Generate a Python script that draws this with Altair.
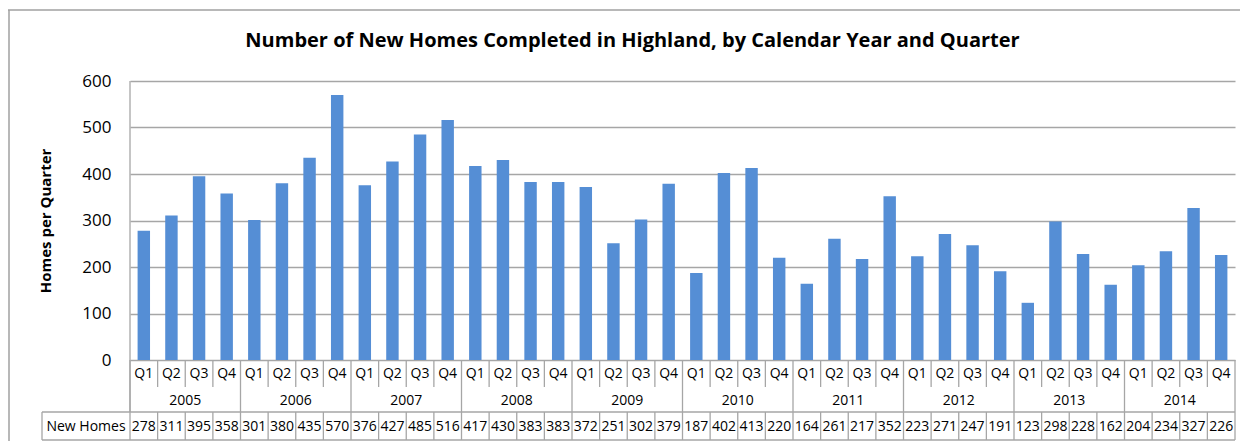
import altair as alt
import pandas as pd

years = ["2005", "2006", "2007", "2008", "2009", "2010", "2011", "2012", "2013", "2014"]
quarters = ["Q1", "Q2", "Q3", "Q4"]
new_homes = [
    278, 311, 395, 358,
    301, 380, 435, 570,
    376, 427, 485, 516,
    417, 430, 383, 383,
    372, 251, 302, 379,
    187, 402, 413, 220,
    164, 261, 217, 352,
    223, 271, 247, 191,
    123, 298, 228, 162,
    204, 234, 327, 226,
]
y_ticks = [0, 100, 200, 300, 400, 500, 600]

rows = []
for i, y in enumerate(years):
    for j, q in enumerate(quarters):
        rows.append({"key": f"{y} {q}", "year": y, "quarter": q,
                     "value": new_homes[i * 4 + j]})
df = pd.DataFrame(rows)
order = list(df["key"])

FONT = "Open Sans"
GRID = "#a6a6a6"
W, H = 1105, 360
PLOT_H = 279
Q_Y, YEAR_Y, TAB_TOP, TAB_BOT = 306, 331, 331, 359

xs = alt.Scale(domain=order, paddingInner=0, paddingOuter=0)
X = lambda bp=None: (alt.X("key:N", scale=xs, sort=order, axis=None) if bp is None
                     else alt.X("key:N", scale=xs, sort=order, axis=None, bandPosition=bp))

base = alt.Chart(df)

bars = base.mark_bar(color="#558ED5", width=alt.RelativeBandSize(0.45)).encode(
    x=X(),
    y=alt.Y("value:Q",
            scale=alt.Scale(domain=[0, 600], range=[PLOT_H, 0], nice=False),
            axis=alt.Axis(values=y_ticks, title="Homes per Quarter",
                          titleFont=FONT, titleFontSize=15, titleFontWeight="bold",
                          titleColor="#000", titlePadding=28,
                          labelFont=FONT, labelFontSize=17, labelColor="#000",
                          labelPadding=19, ticks=False, domain=False,
                          grid=True, gridColor=GRID, gridWidth=1.3)),
)

q_text = base.mark_text(font=FONT, fontSize=14, color="#000").encode(
    x=X(), y=alt.value((PLOT_H + Q_Y) / 2), text="quarter:N")

year_text = base.transform_filter(alt.datum.quarter == "Q2").mark_text(
    font=FONT, fontSize=14, color="#000").encode(
    x=X(1), y=alt.value((Q_Y + YEAR_Y) / 2 + 1), text="year:N")

val_text = base.mark_text(font=FONT, fontSize=14, color="#000").encode(
    x=X(), y=alt.value((TAB_TOP + TAB_BOT) / 2 + 1), text="value:Q")

rule_style = dict(color=GRID, strokeWidth=1.3)

q_sep = base.transform_filter(alt.datum.quarter != "Q1").mark_rule(**rule_style).encode(
    x=X(0), y=alt.value(PLOT_H), y2=alt.value(Q_Y))
year_sep = base.transform_filter(alt.datum.quarter == "Q1").mark_rule(**rule_style).encode(
    x=X(0), y=alt.value(PLOT_H), y2=alt.value(TAB_TOP))
tab_sep = base.mark_rule(**rule_style).encode(
    x=X(0), y=alt.value(TAB_TOP), y2=alt.value(TAB_BOT))
last_sep = base.transform_filter(alt.datum.key == order[-1]).mark_rule(**rule_style).encode(
    x=X(1), y=alt.value(PLOT_H), y2=alt.value(TAB_BOT))

frame_df = pd.DataFrame({"k": [0]})
fb = alt.Chart(frame_df)
left_axis = fb.mark_rule(**rule_style).encode(
    x=alt.value(0), y=alt.value(0), y2=alt.value(TAB_TOP))
tab_h1 = fb.mark_rule(**rule_style).encode(
    x=alt.value(-88), x2=alt.value(W), y=alt.value(TAB_TOP))
tab_h2 = fb.mark_rule(**rule_style).encode(
    x=alt.value(-88), x2=alt.value(W), y=alt.value(TAB_BOT))
tab_left = fb.mark_rule(**rule_style).encode(
    x=alt.value(-88), y=alt.value(TAB_TOP), y2=alt.value(TAB_BOT))
label_text = fb.mark_text(font=FONT, fontSize=14, color="#000", text="New Homes").encode(
    x=alt.value(-44), y=alt.value((TAB_TOP + TAB_BOT) / 2 + 1))
outer_top = fb.mark_rule(color="#a0a0a0", strokeWidth=1.5).encode(
    x=alt.value(-122), x2=alt.value(W + 20), y=alt.value(-71))
outer_left = fb.mark_rule(color="#a0a0a0", strokeWidth=1.5).encode(
    x=alt.value(-121), y=alt.value(-71), y2=alt.value(H + 5))

chart = alt.layer(
    outer_top, outer_left,
    bars, left_axis, q_sep, year_sep, tab_sep, last_sep,
    tab_h1, tab_h2, tab_left,
    q_text, year_text, val_text, label_text,
).properties(
    width=W, height=H,
    title=alt.TitleParams(
        "Number of New Homes Completed in Highland, by Calendar Year and Quarter",
        font=FONT, fontSize=20, fontWeight="bold", color="#000",
        anchor="middle", dx=-50, offset=-42),
    autosize=alt.AutoSizeParams(type="none"),
    padding={"left": 122, "top": 73, "right": 5, "bottom": 0},
).configure_view(stroke=None)

chart.save("out.html", embed_options={"renderer": "svg", "actions": False})
